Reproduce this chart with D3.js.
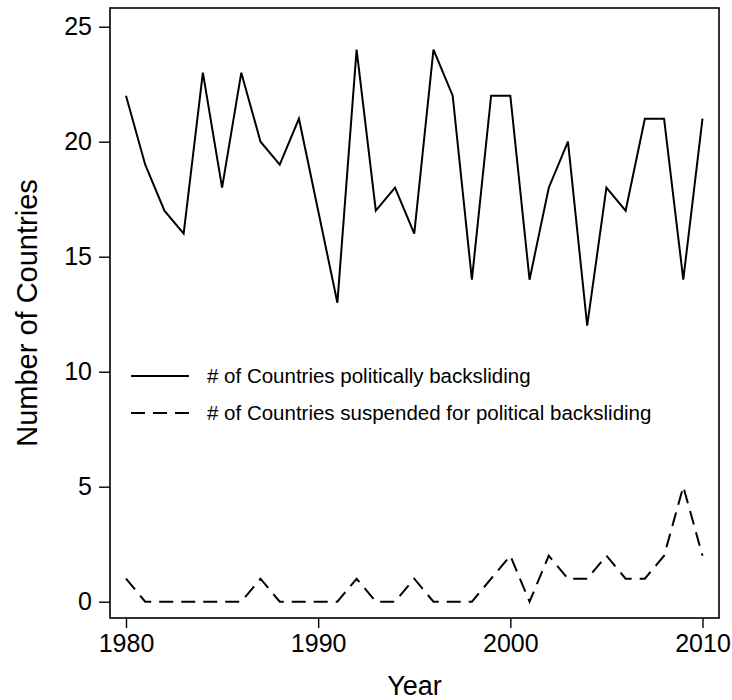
<!DOCTYPE html>
<html>
<head>
<meta charset="utf-8">
<script src="https://cdn.jsdelivr.net/npm/d3@7"></script>
<style>
  html, body { margin: 0; padding: 0; background: #fff; }
  svg { display: block; font-family: "Liberation Sans", Arial, Helvetica, sans-serif; }
</style>
</head>
<body>
<svg id="chart" width="732" height="700"></svg>
<script>
const years = d3.range(1980, 2011);
const backsliding = [22, 19, 17, 16, 23, 18, 23, 20, 19, 21, 17, 13, 24, 17, 18, 16, 24, 22, 14, 22, 22, 14, 18, 20, 12, 18, 17, 21, 21, 14, 21];
const suspended   = [1, 0, 0, 0, 0, 0, 0, 1, 0, 0, 0, 0, 1, 0, 0, 1, 0, 0, 0, 1, 2, 0, 2, 1, 1, 2, 1, 1, 2, 5, 2];
const xTicks = [1980, 1990, 2000, 2010];
const yTicks = [0, 5, 10, 15, 20, 25];
const seriesLabels = ["# of Countries politically backsliding", "# of Countries suspended for political backsliding"];
const xTitle = "Year";
const yTitle = "Number of Countries";

const svg = d3.select("#chart");
const frame = { left: 110, right: 719, top: 8, bottom: 618 };
const x = d3.scaleLinear().domain([1980, 2010]).range([126, 702.5]);
const y = d3.scaleLinear().domain([0, 25]).range([601.7, 26.7]);

// frame
svg.append("rect")
  .attr("x", frame.left).attr("y", frame.top)
  .attr("width", frame.right - frame.left).attr("height", frame.bottom - frame.top)
  .attr("fill", "none").attr("stroke", "#000").attr("stroke-width", 1.6);

// y axis
const yAxis = d3.axisLeft(y).tickValues(yTicks).tickSize(11).tickPadding(7).tickFormat(d3.format("d"));
const gy = svg.append("g").attr("transform", `translate(${frame.left},0)`).call(yAxis);
gy.select(".domain").remove();
gy.selectAll(".tick line").attr("stroke", "#000").attr("stroke-width", 1.4);
gy.selectAll(".tick text").attr("font-size", 25).attr("fill", "#000").attr("font-family", "Liberation Sans, Arial, sans-serif");

// x axis
const xAxis = d3.axisBottom(x).tickValues(xTicks).tickSize(10).tickPadding(6).tickFormat(d3.format("d"));
const gx = svg.append("g").attr("transform", `translate(0,${frame.bottom})`).call(xAxis);
gx.select(".domain").remove();
gx.selectAll(".tick line").attr("stroke", "#000").attr("stroke-width", 1.4);
gx.selectAll(".tick text").attr("font-size", 25).attr("fill", "#000").attr("font-family", "Liberation Sans, Arial, sans-serif");

// titles
svg.append("text")
  .attr("x", (frame.left + frame.right) / 2).attr("y", 695)
  .attr("text-anchor", "middle").attr("font-size", 27).attr("fill", "#000")
  .text(xTitle);
svg.append("text")
  .attr("transform", `translate(37,${(frame.top + frame.bottom) / 2}) rotate(-90)`)
  .attr("text-anchor", "middle").attr("font-size", 29).attr("fill", "#000")
  .text(yTitle);

// lines
const line = d3.line().x((d, i) => x(years[i])).y(d => y(d));
svg.append("path").datum(backsliding)
  .attr("d", line).attr("fill", "none").attr("stroke", "#000")
  .attr("stroke-width", 2).attr("stroke-linejoin", "miter");
svg.append("path").datum(suspended)
  .attr("d", line).attr("fill", "none").attr("stroke", "#000")
  .attr("stroke-width", 2).attr("stroke-dasharray", "14,8");

// legend
const legend = svg.append("g");
const legY = [376, 413];
const dashes = [null, "14,8"];
seriesLabels.forEach((lab, i) => {
  const l = legend.append("line")
    .attr("x1", 131).attr("x2", 189).attr("y1", legY[i]).attr("y2", legY[i])
    .attr("stroke", "#000").attr("stroke-width", 2);
  if (dashes[i]) l.attr("stroke-dasharray", "14,8");
  legend.append("text")
    .attr("x", 207).attr("y", legY[i]).attr("dy", "0.35em")
    .attr("font-size", 20.5).attr("fill", "#000")
    .text(lab);
});
</script>
</body>
</html>
